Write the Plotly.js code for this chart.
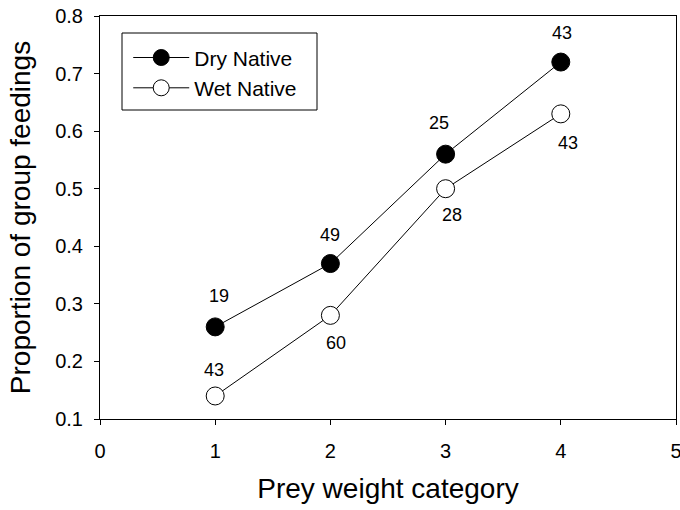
<!DOCTYPE html>
<html>
<head>
<meta charset="utf-8">
<script src="https://cdn.plot.ly/plotly-3.0.1.min.js"></script>
<style>html,body{margin:0;padding:0;background:#fff;}#chart{width:680px;height:510px;}</style>
</head>
<body>
<div id="chart"></div>
<script>
// Prey weight categories
const categories = [1, 2, 3, 4];
// Proportion of group feedings per season
const dryNative = [0.26, 0.37, 0.56, 0.72];
const wetNative = [0.14, 0.28, 0.50, 0.63];
// Sample sizes printed beside each point
const dryN = [19, 49, 25, 43];
const wetN = [43, 60, 28, 43];
// Axis tick labels
const xTicks = [0, 1, 2, 3, 4, 5];
const yTicks = [0.1, 0.2, 0.3, 0.4, 0.5, 0.6, 0.7, 0.8];

const FONT = 'Liberation Sans, Arial, sans-serif';

// Pixel offsets of each count label from its point
const dryLabelOffset = [[4, 31], [0, 29], [-7, 31], [1, 29]];
const wetLabelOffset = [[-1, 26], [6, -28], [6, -26], [7, -29]];

const traces = [
  {
    x: categories, y: dryNative, name: 'Dry Native', type: 'scatter', mode: 'lines+markers',
    legendgroup: 'dry',
    line: {color: '#000', width: 1},
    marker: {symbol: 'circle', size: 18, color: '#000', line: {color: '#000', width: 1}}
  },
  {
    x: categories, y: wetNative, name: 'Wet Native', type: 'scatter', mode: 'lines+markers',
    legendgroup: 'wet',
    line: {color: '#000', width: 1},
    marker: {symbol: 'circle', size: 18, color: '#fff', line: {color: '#000', width: 1}}
  }
];

const labelFont = {family: FONT, size: 18, color: '#000'};
const annotations = [];
categories.forEach((c, i) => {
  annotations.push({x: c, y: dryNative[i], text: String(dryN[i]), showarrow: false,
    xshift: dryLabelOffset[i][0], yshift: dryLabelOffset[i][1], font: labelFont});
  annotations.push({x: c, y: wetNative[i], text: String(wetN[i]), showarrow: false,
    xshift: wetLabelOffset[i][0], yshift: wetLabelOffset[i][1], font: labelFont});
});

const tickFont = {family: FONT, size: 20, color: '#000'};
const titleFont = {family: FONT, size: 28, color: '#000'};

const layout = {
  width: 680, height: 510,
  margin: {l: 100, r: 4, t: 16, b: 91},
  paper_bgcolor: '#fff', plot_bgcolor: '#fff',
  font: {family: FONT, color: '#000'},
  showlegend: true,
  legend: {
    x: 0.049, y: 0.947, xanchor: 'left', yanchor: 'top',
    borderwidth: 0, bgcolor: 'rgba(0,0,0,0)',
    font: {family: FONT, size: 21, color: '#000'},
    itemwidth: 56,
    tracegroupgap: 0
  },
  shapes: [
    // legend frame
    {type: 'rect', xref: 'paper', yref: 'paper',
     x0: 22 / 576, x1: 217 / 576, y0: (419 - 110) / 403, y1: (419 - 33) / 403,
     line: {color: '#000', width: 1}, fillcolor: 'rgba(0,0,0,0)', layer: 'below'}
  ],
  xaxis: {
    range: [0, 5], tickvals: xTicks, ticktext: xTicks.map(String),
    showgrid: false, zeroline: false, showline: true, linecolor: '#000', linewidth: 1, mirror: true,
    ticks: 'outside', ticklen: 5, tickcolor: '#000', tickwidth: 1,
    ticklabelstandoff: 9, ticklabeloverflow: 'allow',
    tickfont: tickFont,
    title: {text: 'Prey weight category', font: titleFont, standoff: 17}
  },
  yaxis: {
    range: [0.1, 0.8], tickvals: yTicks, ticktext: yTicks.map(v => v.toFixed(1)),
    showgrid: false, zeroline: false, showline: true, linecolor: '#000', linewidth: 1, mirror: true,
    ticks: 'outside', ticklen: 5, tickcolor: '#000', tickwidth: 1,
    ticklabelstandoff: 7,
    tickfont: tickFont,
    title: {text: 'Proportion of group feedings', font: titleFont, standoff: 16}
  },
  annotations: annotations
};

Plotly.newPlot('chart', traces, layout, {displayModeBar: false, staticPlot: true});
</script>
</body>
</html>
